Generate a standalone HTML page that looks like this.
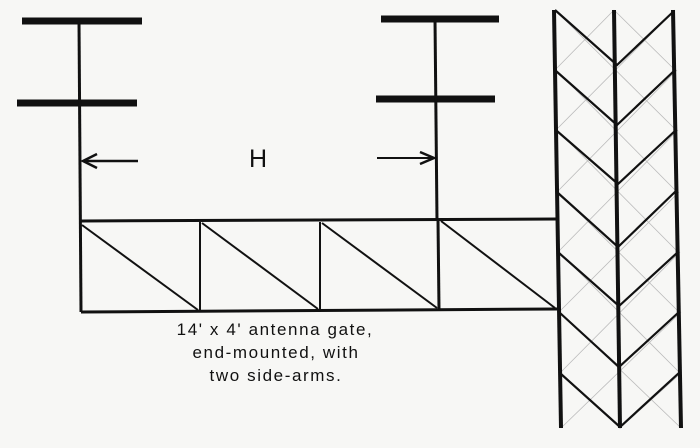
<!DOCTYPE html>
<html><head><style>
html,body{margin:0;padding:0;background:#f7f7f5;}
svg{display:block}
</style></head><body>
<svg width="700" height="448" viewBox="0 0 700 448" xmlns="http://www.w3.org/2000/svg">
<rect width="700" height="448" fill="#f7f7f5"/>
<g stroke="#111" fill="none" stroke-linecap="butt">
<line x1="22" y1="21" x2="142" y2="21" stroke-width="7"/>
<line x1="17" y1="103" x2="137" y2="103" stroke-width="7"/>
<line x1="381" y1="19" x2="499" y2="19" stroke-width="7"/>
<line x1="376" y1="99" x2="495" y2="99" stroke-width="7"/>
<line x1="79" y1="21" x2="81" y2="312" stroke-width="3"/>
<line x1="435" y1="19" x2="437" y2="221" stroke-width="3"/>
<line x1="83" y1="161" x2="138" y2="161" stroke-width="2.5"/>
<polyline points="97,154 83,161 97,168" stroke-width="2.5"/>
<line x1="377" y1="158" x2="433" y2="158" stroke-width="2"/>
<polyline points="420,152 434,158 420,164" stroke-width="2.5"/>
<line x1="81" y1="221" x2="557" y2="219" stroke-width="3"/>
<line x1="81" y1="312" x2="557" y2="309" stroke-width="3"/>
<line x1="200" y1="222" x2="200" y2="311" stroke-width="2"/>
<line x1="320" y1="222" x2="320" y2="310" stroke-width="2"/>
<line x1="438" y1="220" x2="439" y2="309" stroke-width="3"/>
<line x1="82" y1="225" x2="198" y2="310" stroke-width="2"/>
<line x1="202" y1="223" x2="318" y2="309" stroke-width="2"/>
<line x1="322" y1="223" x2="437" y2="308" stroke-width="2"/>
<line x1="441" y1="221" x2="555" y2="308" stroke-width="2"/>
<g stroke="#bbb" stroke-width="0.8">
<line x1="555" y1="70" x2="614" y2="10"/>
<line x1="556" y1="130" x2="675" y2="10"/>
<line x1="557" y1="192" x2="677" y2="70"/>
<line x1="558" y1="252" x2="678" y2="130"/>
<line x1="559" y1="312" x2="679" y2="192"/>
<line x1="560" y1="373" x2="680" y2="252"/>
<line x1="561" y1="428" x2="681" y2="312"/>
<line x1="620" y1="428" x2="681" y2="373"/>
<line x1="614" y1="10" x2="675" y2="70"/>
<line x1="555" y1="10" x2="676" y2="130"/>
<line x1="556" y1="70" x2="677" y2="192"/>
<line x1="557" y1="130" x2="678" y2="252"/>
<line x1="558" y1="192" x2="679" y2="312"/>
<line x1="559" y1="252" x2="680" y2="373"/>
<line x1="560" y1="312" x2="681" y2="428"/>
<line x1="561" y1="373" x2="620" y2="428"/>
</g>
<line x1="554" y1="10" x2="561" y2="428" stroke-width="4"/>
<line x1="614" y1="10" x2="620" y2="428" stroke-width="4"/>
<line x1="673" y1="10" x2="681" y2="428" stroke-width="4"/>
<g stroke-width="2.2">
<polyline points="555,10 617,65 674,11"/>
<polyline points="556,71 617,125 675,70"/>
<polyline points="557,131 618,184 676,130"/>
<polyline points="558,193 618,247 677,190"/>
<polyline points="559,253 619,306 678,252"/>
<polyline points="560,313 619,367 679,312"/>
<polyline points="561,374 620,427 680,372"/>
</g>
</g>
<text x="258" y="167" font-family="Liberation Sans, sans-serif" font-size="25" text-anchor="middle" fill="#111">H</text>
<g font-family="Liberation Sans, sans-serif" font-size="17" fill="#111" text-anchor="middle" letter-spacing="1.6">
<text x="275" y="335">14' x 4' antenna gate,</text>
<text x="276" y="358">end-mounted, with</text>
<text x="276" y="381">two side-arms.</text>
</g>
</svg>
</body></html>
